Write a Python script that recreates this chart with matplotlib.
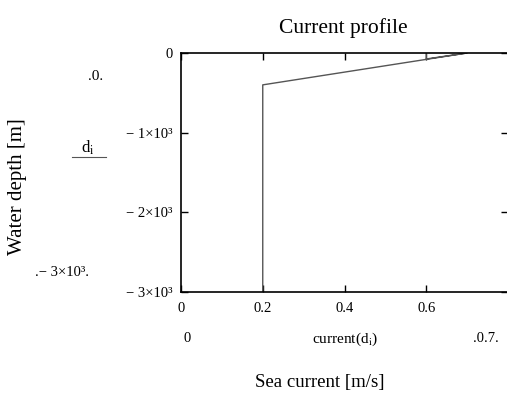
import matplotlib.pyplot as plt

plt.rcParams['font.family'] = 'Liberation Serif'
plt.rcParams['mathtext.fontset'] = 'stix'

# current profile: surface jet decaying to a constant deep current
current = [0.6, 0.6, 0.7, 0.2, 0.2]
depth = [0, -75, 0, -400, -3000]

x_ticks = [0, 0.2, 0.4, 0.6, 0.8]
x_labels = ['0', '0.2', '0.4', '0.6', '']
y_ticks = [0, -1000, -2000, -3000]
y_labels = ['0', '\u2212 1\u00d710\u00b3', '\u2212 2\u00d710\u00b3', '\u2212 3\u00d710\u00b3']

W, H = 507, 396
fig = plt.figure(figsize=(W / 100, H / 100), dpi=100)


def fx(px):
    return px / W


def fy(py):
    return 1 - py / H


ax = fig.add_axes([fx(181), fy(292), fx(508) - fx(181), fy(53) - fy(292)])
ax.plot(current, depth, color='#555555', lw=1.0)
ax.set_xlim(0, 0.8)
ax.set_ylim(-3000, 0)

ax.set_xticks(x_ticks)
ax.set_xticklabels(x_labels, fontsize=10.5)
ax.set_yticks(y_ticks)
ax.set_yticklabels(y_labels, fontsize=10.5)
ax.tick_params(direction='in', top=True, right=True, length=5, width=1)
ax.tick_params(axis='x', pad=7)
ax.tick_params(axis='y', pad=6)
for s in ax.spines.values():
    s.set_linewidth(1.2)

fig.text(fx(343), fy(28), 'Current profile', ha='center', va='center', fontsize=15.5)
fig.text(fx(18), fy(187), 'Water depth [m]', rotation=90, ha='center', va='center', fontsize=15)
fig.text(fx(320), fy(383), 'Sea current [m/s]', ha='center', va='center', fontsize=13.5)

# axis placeholders around the plot
fig.text(fx(96), fy(77), '.0.', ha='center', va='center', fontsize=11)
fig.text(fx(88), fy(148), r'd$_{\mathrm{i}}$', ha='center', va='center', fontsize=12)
fig.add_artist(plt.Line2D([fx(72), fx(106)], [fy(157), fy(157)], color='#555555', lw=0.8))
fig.text(fx(62), fy(272), '.\u2212 3\u00d710\u00b3.', ha='center', va='center', fontsize=10.5)
fig.text(fx(187), fy(338), '0', ha='center', va='center', fontsize=10.5)
fig.text(fx(345), fy(339), r'current(d$_{\mathrm{i}}$)', ha='center', va='center', fontsize=11)
fig.text(fx(486), fy(338), '.0.7.', ha='center', va='center', fontsize=10.5)

fig.savefig('out.png', dpi=100)
